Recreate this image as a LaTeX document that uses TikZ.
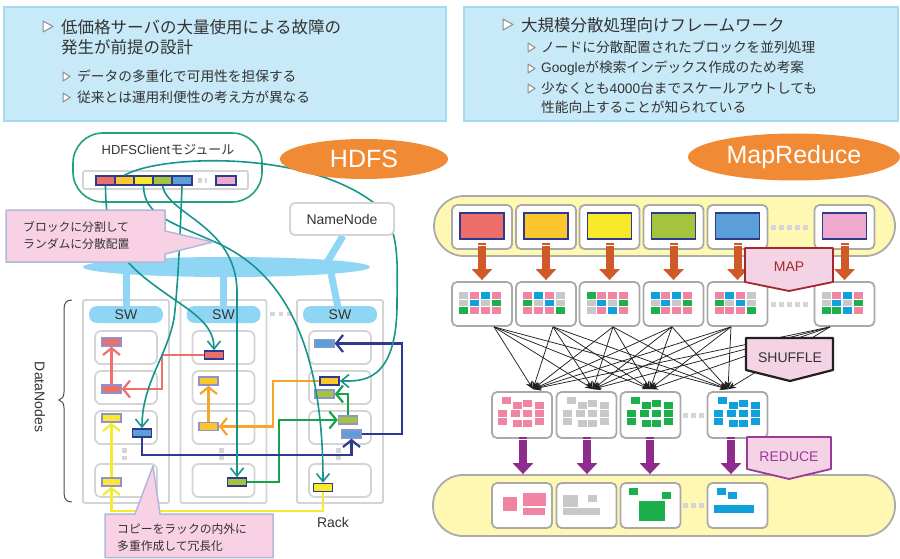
\documentclass[tikz,border=0pt]{standalone}
\usepackage{fontspec}
\setmainfont{Noto Sans CJK JP}
\newfontfamily\lsf{Liberation Sans}
\usetikzlibrary{arrows.meta,shapes.geometric}
\definecolor{cTxt}{HTML}{333333}
\definecolor{cBoxF}{HTML}{C7E9F8}
\definecolor{cBoxB}{HTML}{A3DAF2}
\definecolor{cTri}{HTML}{8C8C8C}
\definecolor{cRack}{HTML}{D4D4D4}
\definecolor{cSW}{HTML}{8FD6F4}
\definecolor{cRed}{HTML}{EE6F6A}
\definecolor{cOra}{HTML}{FCC72C}
\definecolor{cYel}{HTML}{F8E92A}
\definecolor{cGrn}{HTML}{A3C43C}
\definecolor{cBlu}{HTML}{5C9FD8}
\definecolor{cPnk}{HTML}{EFA9CD}
\definecolor{cLB}{HTML}{8E93CC}
\definecolor{cDB}{HTML}{2E3A8F}
\definecolor{cRedL}{HTML}{EF6F6A}
\definecolor{cOraL}{HTML}{F6A52A}
\definecolor{cYelL}{HTML}{F7E92C}
\definecolor{cGrnL}{HTML}{14A24A}
\definecolor{cNavy}{HTML}{2E3A8F}
\definecolor{cTeal}{HTML}{16958F}
\definecolor{cCM}{HTML}{23A07E}
\definecolor{cCallF}{HTML}{F8D2E4}
\definecolor{cCallB}{HTML}{AEB8DC}
\definecolor{cOrgE}{HTML}{F08A34}
\definecolor{cPill}{HTML}{FFF8B3}
\definecolor{cPillB}{HTML}{ABABAB}
\definecolor{cBoxG}{HTML}{A9A9A9}
\definecolor{cMapA}{HTML}{CF5A28}
\definecolor{cRedA}{HTML}{8E2C8E}
\definecolor{cLab}{HTML}{F3D3E4}
\definecolor{cMapT}{HTML}{A3282E}
\definecolor{cRedT}{HTML}{9B3A9B}
\definecolor{cShuf}{HTML}{231F20}
\definecolor{gG}{HTML}{C7C8CA}
\definecolor{gP}{HTML}{F085A3}
\definecolor{gB}{HTML}{0EA1DC}
\definecolor{gN}{HTML}{1BB04C}
\definecolor{cDot}{HTML}{D5D5D5}
\newcommand\mgrid[2]{%
  \foreach \cc [count=\ii from 0] in {#2}{%
    \pgfmathsetmacro\gx{8+10.8*mod(\ii,4)}%
    \pgfmathsetmacro\gy{11+7.5*int(\ii/4)}%
    \fill[\cc] ([xshift=\gx pt,yshift=-\gy pt]#1.north west) rectangle ++(9pt,-6.5pt);%
  }%
}
\newcommand\rgrid[2]{%
  \foreach \gx/\gy in {11/6,22/11,32/9,44/11,7/19,20/19,32/19,44/19,7/27,22/29,32/29,44/27}{%
    \fill[#2] ([xshift=\gx pt,yshift=-\gy pt]#1.north west) rectangle ++(9pt,-6.5pt);}%
}
\tikzset{
  topbox/.style={draw=cBoxB, fill=cBoxF, line width=2pt, inner sep=0pt},
  tri/.style={draw=cTri, fill=white, line width=1pt, line join=round},
  ttl/.style={anchor=west, inner sep=0pt, text=cTxt, font=\fontsize{16.5pt}{18pt}\selectfont},
  subt/.style={anchor=west, inner sep=0pt, text=cTxt, font=\fontsize{13.7pt}{16pt}\selectfont},
  lbl/.style={inner sep=0pt, text=cTxt, font=\fontsize{13pt}{15pt}\selectfont},
  lat/.style={inner sep=0pt, text=cTxt, font=\lsf\fontsize{14pt}{16pt}\selectfont},
  cal/.style={anchor=west, inner sep=0pt, text=cTxt, font=\fontsize{11.8pt}{14pt}\selectfont},
  rack/.style={draw=cRack, fill=white, line width=1.8pt, rounded corners=1.5pt, inner sep=0pt},
  dn/.style={draw=cRack, fill=white, line width=1.8pt, rounded corners=6pt, inner sep=0pt, minimum width=62pt, minimum height=33pt},
  swp/.style={fill=cSW, rounded corners=8pt, minimum width=74pt, minimum height=17pt, inner sep=0pt, text=cTxt, font=\lsf\fontsize{14pt}{16pt}\selectfont},
  leg/.style={draw=cSW, line width=7pt},
  blkL/.style={draw=cLB, line width=1.3pt, minimum width=19pt, minimum height=8pt, inner sep=0pt},
  blkD/.style={draw=cDB, line width=1.5pt, minimum width=19pt, minimum height=8pt, inner sep=0pt},
  con/.style={line width=2.2pt, -{Straight Barb[length=7pt,width=17pt]}},
  tealc/.style={draw=cTeal, line width=1.6pt, -{Straight Barb[length=8pt,width=13pt]}},
  dotsq/.style={draw=cDot, line width=5pt, dash pattern=on 5pt off 3pt},
  call/.style={draw=cCallB, fill=cCallF, line width=1.5pt, line join=round},
  pill/.style={draw=cPillB, fill=cPill, line width=1.8pt, rounded corners=30pt, inner sep=0pt},
  mbox/.style={draw=cBoxG, fill=white, line width=1.8pt, rounded corners=5pt, minimum width=60pt, inner sep=0pt},
  mapar/.style={draw=cMapA, line width=8pt, -{Triangle[length=11pt,width=20pt]}},
  redar/.style={draw=cRedA, line width=8pt, -{Triangle[length=11pt,width=20pt]}},
  shuf/.style={draw=cShuf, line width=0.75pt, -{Stealth[length=8pt,width=6.5pt]}},
  labt/.style={inner sep=0pt, font=\lsf\fontsize{14pt}{16pt}\selectfont},
  big/.style={ellipse, fill=cOrgE, inner sep=0pt, text=white, font=\lsf\fontsize{25pt}{28pt}\selectfont},
  brace/.style={draw=black!70, line width=1pt},
}
\begin{document}
\begin{tikzpicture}[x=1pt,y=-1pt]
\useasboundingbox (0,0) rectangle (900,559);
% ---------- top boxes ----------
\node[topbox, minimum width=442pt, minimum height=114pt] (lbox) at (225,64) {};
\node[topbox, minimum width=434pt, minimum height=114pt] (rbox) at (681,64) {};
\draw[tri] (43,21) -- (53,26.5) -- (43,32) -- cycle;
\node[ttl] (l1) at (61,27) {低価格サーバの大量使用による故障の};
\node[ttl] (l2) at (61,47) {発生が前提の設計};
\draw[tri] (63,72) -- (70,76.5) -- (63,81) -- cycle;
\node[subt] (l3) at (77,76) {データの多重化で可用性を担保する};
\draw[tri] (63,93) -- (70,97.5) -- (63,102) -- cycle;
\node[subt] (l4) at (77,97) {従来とは運用利便性の考え方が異なる};
\draw[tri] (503,19) -- (513,24.5) -- (503,30) -- cycle;
\node[ttl] (r1) at (521,25) {大規模分散処理向けフレームワーク};
\draw[tri] (528,43) -- (535,47.5) -- (528,52) -- cycle;
\node[subt] (r2) at (541,47) {ノードに分散配置されたブロックを並列処理};
\draw[tri] (528,64) -- (535,68.5) -- (528,73) -- cycle;
\node[subt] (r3) at (541,68) {{\lsf Google}が検索インデックス作成のため考案};
\draw[tri] (528,84) -- (535,88.5) -- (528,93) -- cycle;
\node[subt] (r4) at (541,88) {少なくとも{\lsf 4000}台までスケールアウトしても};
\node[subt] (r5) at (541,107) {性能向上することが知られている};
% ---------- HDFS ----------
\foreach \rk/\cx in {1/126,2/223.5,3/340} {
  \node[rack, minimum width=86pt, minimum height=203pt] (rk\rk) at (\cx,401.5) {};
  \node[swp] (sw\rk) at (\cx,314.5) {SW};
  \foreach \k/\cy in {1/347.5,2/387.5,3/427.5,4/480.5}
    \node[dn] (dn\rk\k) at (\cx,\cy) {};
  \draw[dotsq] ([xshift=-2pt,yshift=-3pt]dn\rk3.south) -- ([xshift=-2pt,yshift=3pt]dn\rk4.north);
}
\draw[dotsq, line width=4.5pt, dash pattern=on 4.5pt off 4pt] (270,314) -- (294,314);
\node[draw=cRack, fill=white, line width=1.8pt, rounded corners=5pt, minimum width=104pt, minimum height=32pt, inner sep=0pt] (nn) at (342,219) {};
\node[ellipse, fill=cSW, minimum width=287pt, minimum height=20pt, inner sep=0pt] (net) at (226.5,267) {};
\draw[leg] (sw1.center |- net.center) -- ([yshift=-2pt]sw1.north);
\draw[leg] (sw2.center |- net.center) -- ([yshift=-2pt]sw2.north);
\draw[leg] (330,268) -- ([xshift=-2pt,yshift=-2pt]sw3.north);
\draw[leg] ([xshift=1pt]nn.south) -- (326,264);
% DataNodes brace
\draw[brace] (72,300) .. controls (66,300) and (64,303) .. (64,310) -- (64,392) .. controls (64,397) and (62,399) .. (59,400) .. controls (62,401) and (64,403) .. (64,408) -- (64,492) .. controls (64,499) and (66,502) .. (72,502);
\node[lat, rotate=-90] (dnlab) at (40,397) {DataNodes};
\node[lat] (racklab) at (333,522) {Rack};
% blocks in racks
\node[blkL, fill=cRed] (r1a) at (111.5,342) {};
\node[blkL, fill=cRed] (r1b) at (111.5,389) {};
\node[blkL, fill=cYel] (r1c) at (111.5,418) {};
\node[blkD, fill=cBlu] (r1d) at (142,433) {};
\node[blkL, fill=cYel] (r1e) at (111.5,482) {};
\node[blkD, fill=cRed] (r2a) at (214,355) {};
\node[blkL, fill=cOra] (r2b) at (208.5,381) {};
\node[blkL, fill=cOra] (r2c) at (208.5,426.5) {};
\node[blkD, fill=cGrn] (r2d) at (237,482) {};
\node[blkL, fill=cBlu] (r3a) at (324.5,343.5) {};
\node[blkD, fill=cOra] (r3b) at (329.5,381) {};
\node[blkL, fill=cGrn] (r3c) at (324.5,394) {};
\node[blkL, fill=cGrn] (r3d) at (348,420) {};
\node[blkL, fill=cBlu] (r3e) at (351.5,434) {};
\node[blkD, fill=cYel] (r3f) at (323,487.5) {};
% replication connectors
\draw[con, cRedL] (r1b.north) -- (r1a.south);
\draw[con, cRedL] (r2a.west) -- ++(-42,0) |- (r1b.east);
\draw[con, cOraL] (r2c.north) -- (r2b.south);
\draw[con, cOraL] (r3b.west) -- ++(-46,0) |- (r2c.east);
\draw[con, cYelL] (r1e.north) -- (r1c.south);
\draw[con, cYelL] (r3f.south) -- ++(0,19) -| (r1e.south);
\draw[con, cGrnL] (r2d.east) -- ++(32,0) |- (r3d.west);
\draw[con, cGrnL] (r3d.north) |- (r3c.east);
\draw[con, cNavy] (r1d.south) -- ++(0,17) -| (r3e.south);
\draw[con, cNavy] (r3e.east) -- ++(40,0) |- (r3a.east);
% client module
\node[draw=cCM, fill=white, line width=1.6pt, rounded corners=30pt, minimum width=189pt, minimum height=69pt, inner sep=0pt] (cm) at (167.5,167.5) {};
\node[lbl] (cmt) at (168,150) {{\lsf HDFSClient}モジュール};
\node[draw=cRack, fill=white, line width=1.8pt, rounded corners=2pt, minimum width=165pt, minimum height=18pt, inner sep=0pt] (cbar) at (165.5,180) {};
\node[blkD, fill=cRed, minimum height=9pt] (cr) at (105.5,180.5) {};
\node[blkD, fill=cOra, minimum height=9pt] (co) at (124.5,180.5) {};
\node[blkD, fill=cYel, minimum height=9pt] (cy) at (143.5,180.5) {};
\node[blkD, fill=cGrn, minimum height=9pt] (cg) at (162.5,180.5) {};
\node[blkD, fill=cBlu, minimum height=9pt, minimum width=20pt] (cb) at (182,180.5) {};
\node[blkD, fill=cPnk, minimum height=9pt, minimum width=20pt] (cp) at (226,180.5) {};
\draw[dotsq, line width=4.5pt, dash pattern=on 4pt off 3pt] ([xshift=5pt]cb.east) -- ([xshift=-8pt]cp.west);
% teal distribution curves
\draw[tealc] (cr.south) .. controls (106,235) and (115,255) .. (150,282) .. controls (185,309) and (214,320) .. (r2a.north);
\draw[tealc] (co.north) .. controls (160,155) and (300,150) .. (370,200) .. controls (398,220) and (398,250) .. (397,300) .. controls (398,385) and (360,381) .. (r3b.east);
\draw[tealc] (cy.south) .. controls (144,215) and (170,222) .. (215,242) .. controls (275,268) and (323,330) .. (r3f.north);
\draw[tealc] (cg.south) .. controls (168,215) and (235,225) .. (237,290) -- (r2d.north);
\draw[tealc] (cb.south) .. controls (180,240) and (178,280) .. (175,310) .. controls (172,350) and (142,380) .. (r1d.north);
% NameNode and callouts on top
\node[draw=cRack, fill=white, line width=1.8pt, rounded corners=5pt, minimum width=104pt, minimum height=32pt, inner sep=0pt, text=cTxt, font=\lsf\fontsize{14pt}{16pt}\selectfont] (nn2) at (342,219) {NameNode};
\draw[call] (6,210) -- (165,210) -- (165,231) -- (213,242) -- (165,254) -- (165,262) -- (6,262) -- cycle;
\node[cal] (c1a) at (23,227) {ブロックに分割して};
\node[cal] (c1b) at (23,244) {ランダムに分散配置};
\draw[call] (105,514) -- (135,514) -- (153,466) -- (160,514) -- (273,514) -- (273,557.5) -- (105,557.5) -- cycle;
\node[cal] (c2a) at (117,529) {コピーをラックの内外に};
\node[cal] (c2b) at (117,546) {多重作成して冗長化};
\node[big, minimum width=168pt, minimum height=40pt] (hdfs) at (364,159) {HDFS};
% ---------- MapReduce ----------
\node[big, minimum width=212pt, minimum height=47pt] (mr) at (794,157) {MapReduce};
\node[pill, minimum width=461pt, minimum height=60pt] (tp) at (664.5,226) {};
\node[pill, minimum width=462pt, minimum height=61pt] (bp) at (664,505.5) {};
\foreach \i/\x/\c in {1/482/cRed,2/546/cOra,3/609.5/cYel,4/673.5/cGrn,5/737.5/cBlu,6/844.5/cPnk} {
  \node[mbox, minimum height=44pt] (ib\i) at (\x,227) {};
  \node[draw=cDB, line width=1.6pt, fill=\c, minimum width=44pt, minimum height=26pt, inner sep=0pt] (ii\i) at (\x,226) {};
  \node[mbox, minimum height=44pt] (mb\i) at (\x,304) {};
  \draw[mapar] ([yshift=7pt]ib\i.south) -- ([yshift=1pt]mb\i.north);
  \draw[white, line width=1pt] ([yshift=4.5pt]ib\i.south) ++(-5pt,0pt) -- ++(10pt,0pt);
}
\draw[dotsq] ([xshift=3pt]ib5.east) -- ([xshift=-3pt]ib6.west);
\draw[dotsq] ([xshift=3pt]mb5.east) -- ([xshift=-3pt]mb6.west);
\mgrid{mb1}{gG,gP,gB,gP,gG,gB,gG,gN,gN,gP,gP,gP}
\mgrid{mb2}{gP,gB,gP,gG,gN,gG,gB,gG,gP,gP,gP,gN}
\mgrid{mb3}{gN,gP,gP,gP,gG,gB,gG,gN,gG,gP,gB,gP}
\mgrid{mb4}{gB,gP,gB,gP,gG,gB,gG,gN,gN,gP,gP,gP}
\mgrid{mb5}{gP,gB,gP,gG,gN,gG,gB,gG,gP,gP,gP,gN}
\mgrid{mb6}{gG,gP,gB,gP,gG,gB,gG,gN,gN,gN,gB,gP}
\foreach \i/\x/\c in {1/522/gP,2/586.5/gG,3/650.5/gN,4/737.5/gB} {
  \node[mbox, minimum height=46pt] (rb\i) at (\x,415) {};
  \rgrid{rb\i}{\c}
  \node[mbox, minimum height=45pt] (sb\i) at (\x,505.5) {};
}
\draw[dotsq] ([xshift=2pt]rb3.east) -- ([xshift=-2pt]rb4.west);
\draw[dotsq] ([xshift=2pt]sb3.east) -- ([xshift=-2pt]sb4.west);
% shuffle arrows
\foreach \s/\sx in {1/12,2/7,3/3.5,4/-1.5,5/-6.5,6/-14.5}
  \foreach \t/\tx in {1/11,2/6.5,3/-0.5,4/-9.5}
    \draw[shuf] ([xshift=\sx pt]mb\s.south) -- ([xshift=\tx pt,yshift=2pt]rb\t.north);
% reduce arrows
\foreach \i/\dx in {1/1,2/0.5,3/-0.5,4/-6.5} {
  \draw[redar] ([xshift=\dx pt,yshift=1.5pt]rb\i.south) -- ([xshift=\dx pt,yshift=8pt]sb\i.north);
  \draw[white, line width=1pt] ([xshift=\dx pt,yshift=-1pt]rb\i.south) ++(-5pt,0pt) -- ++(10pt,0pt);
}
% result contents
\fill[gP] ([xshift=12pt,yshift=-15pt]sb1.north west) rectangle ++(14pt,-14pt);
\fill[gP] ([xshift=32pt,yshift=-11pt]sb1.north west) rectangle ++(23pt,-13pt);
\fill[gP] ([xshift=32pt,yshift=-26pt]sb1.north west) rectangle ++(22pt,-7pt);
\fill[gG] ([xshift=7pt,yshift=-13pt]sb2.north west) rectangle ++(15pt,-12pt);
\fill[gG] ([xshift=32pt,yshift=-13pt]sb2.north west) rectangle ++(9pt,-7pt);
\fill[gG] ([xshift=7pt,yshift=-26pt]sb2.north west) rectangle ++(37pt,-7pt);
\fill[gN] ([xshift=9pt,yshift=-6pt]sb3.north west) rectangle ++(9pt,-7pt);
\fill[gN] ([xshift=42pt,yshift=-10pt]sb3.north west) rectangle ++(9pt,-7pt);
\fill[gN] ([xshift=19pt,yshift=-19pt]sb3.north west) rectangle ++(26pt,-20pt);
\fill[gB] ([xshift=10pt,yshift=-6pt]sb4.north west) rectangle ++(9pt,-7pt);
\fill[gB] ([xshift=21pt,yshift=-10pt]sb4.north west) rectangle ++(9pt,-7pt);
\fill[gB] ([xshift=7pt,yshift=-23pt]sb4.north west) rectangle ++(40pt,-8pt);
% labels
\draw[fill=cLab, draw=cMapT, line width=1.8pt, line join=round] (745,248) -- (833,248) -- (833,282) -- (789,291) -- (745,282) -- cycle;
\node[labt, text=cMapT] (mapt) at (789,267) {MAP};
\draw[fill=cLab, draw=cShuf, line width=2.2pt, line join=round] (746,338) -- (833,338) -- (833,370) -- (790,381) -- (746,370) -- cycle;
\node[labt, text=cTxt] (shft) at (790,358) {SHUFFLE};
\draw[fill=cLab, draw=cRedT, line width=1.8pt, line join=round] (747,437) -- (831,437) -- (831,469) -- (789,479) -- (747,469) -- cycle;
\node[labt, text=cRedT] (redt) at (789,457) {REDUCE};
\end{tikzpicture}
\end{document}
